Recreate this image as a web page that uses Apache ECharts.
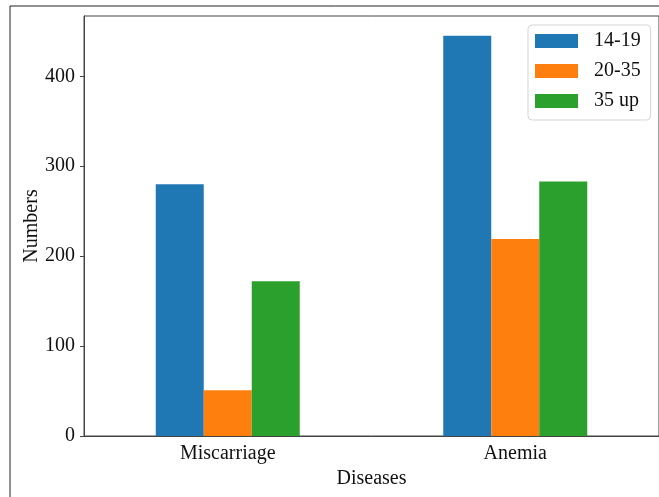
<!DOCTYPE html>
<html>
<head>
<meta charset="utf-8">
<script src="https://cdn.jsdelivr.net/npm/echarts@6/dist/echarts.min.js"></script>
<style>
html,body{margin:0;padding:0;background:#fff;}
#c{width:659px;height:497px;}
</style>
</head>
<body>
<div id="c"></div>
<script>
const categories = ['Miscarriage', 'Anemia'];
const seriesNames = ['14-19', '20-35', '35 up'];
const values1419 = [280, 445];
const values2035 = [51, 219];
const values35up = [172, 283];
const yTicks = [0, 100, 200, 300, 400];
const yMax = 467;

const colors = ['#1f77b4', '#ff7f0e', '#2ca02c'];
const font = 'Liberation Serif';
const fs = 20;

const chart = echarts.init(document.getElementById('c'), null, {renderer: 'canvas'});
const seriesData = [values1419, values2035, values35up];

chart.setOption({
  animation: false,
  backgroundColor: '#fff',
  textStyle: {fontFamily: font},
  grid: {left: 84, top: 16, width: 577, height: 420, show: true, borderColor: '#444', borderWidth: 1, backgroundColor: 'transparent'},
  legend: {
    orient: 'vertical',
    left: 528, top: 25,
    data: seriesNames,
    itemWidth: 43, itemHeight: 14, itemGap: 10,
    padding: [6, 10, 9, 7],
    backgroundColor: '#fff',
    borderColor: '#d5d5d5', borderWidth: 1, borderRadius: 4,
    icon: 'rect',
    textStyle: {fontFamily: font, fontSize: fs, color: '#111', padding: [0, 0, 0, 11]}
  },
  xAxis: {
    type: 'category',
    data: categories,
    name: 'Diseases',
    nameLocation: 'middle',
    nameGap: 33,
    nameTextStyle: {fontFamily: font, fontSize: fs, color: '#111'},
    axisLine: {lineStyle: {color: '#444', width: 1}},
    axisTick: {alignWithLabel: true, length: 4, lineStyle: {color: '#444'}},
    axisLabel: {fontFamily: font, fontSize: fs, color: '#111', margin: 8},
    splitLine: {show: false}
  },
  yAxis: {
    type: 'value',
    min: 0, max: yMax,
    name: 'Numbers',
    nameLocation: 'middle',
    nameGap: 42,
    nameMoveOverlap: false,
    nameTextStyle: {fontFamily: font, fontSize: fs, color: '#111'},
    axisLine: {show: true, lineStyle: {color: '#444', width: 1}},
    axisTick: {show: true, length: 4, lineStyle: {color: '#444'}, customValues: yTicks},
    axisLabel: {fontFamily: font, fontSize: fs, color: '#111', margin: 9, customValues: yTicks},
    splitLine: {show: false}
  },
  series: seriesNames.map((n, i) => ({
    name: n,
    type: 'bar',
    data: seriesData[i],
    barWidth: 48,
    barGap: '0%',
    itemStyle: {color: colors[i]}
  })),
  graphic: [
    {type: 'line', shape: {x1: 10, y1: 6, x2: 10, y2: 497}, style: {stroke: '#222', lineWidth: 1}, silent: true},
    {type: 'line', shape: {x1: 10, y1: 6, x2: 659, y2: 6}, style: {stroke: '#222', lineWidth: 1}, silent: true}
  ]
});
</script>
</body>
</html>
